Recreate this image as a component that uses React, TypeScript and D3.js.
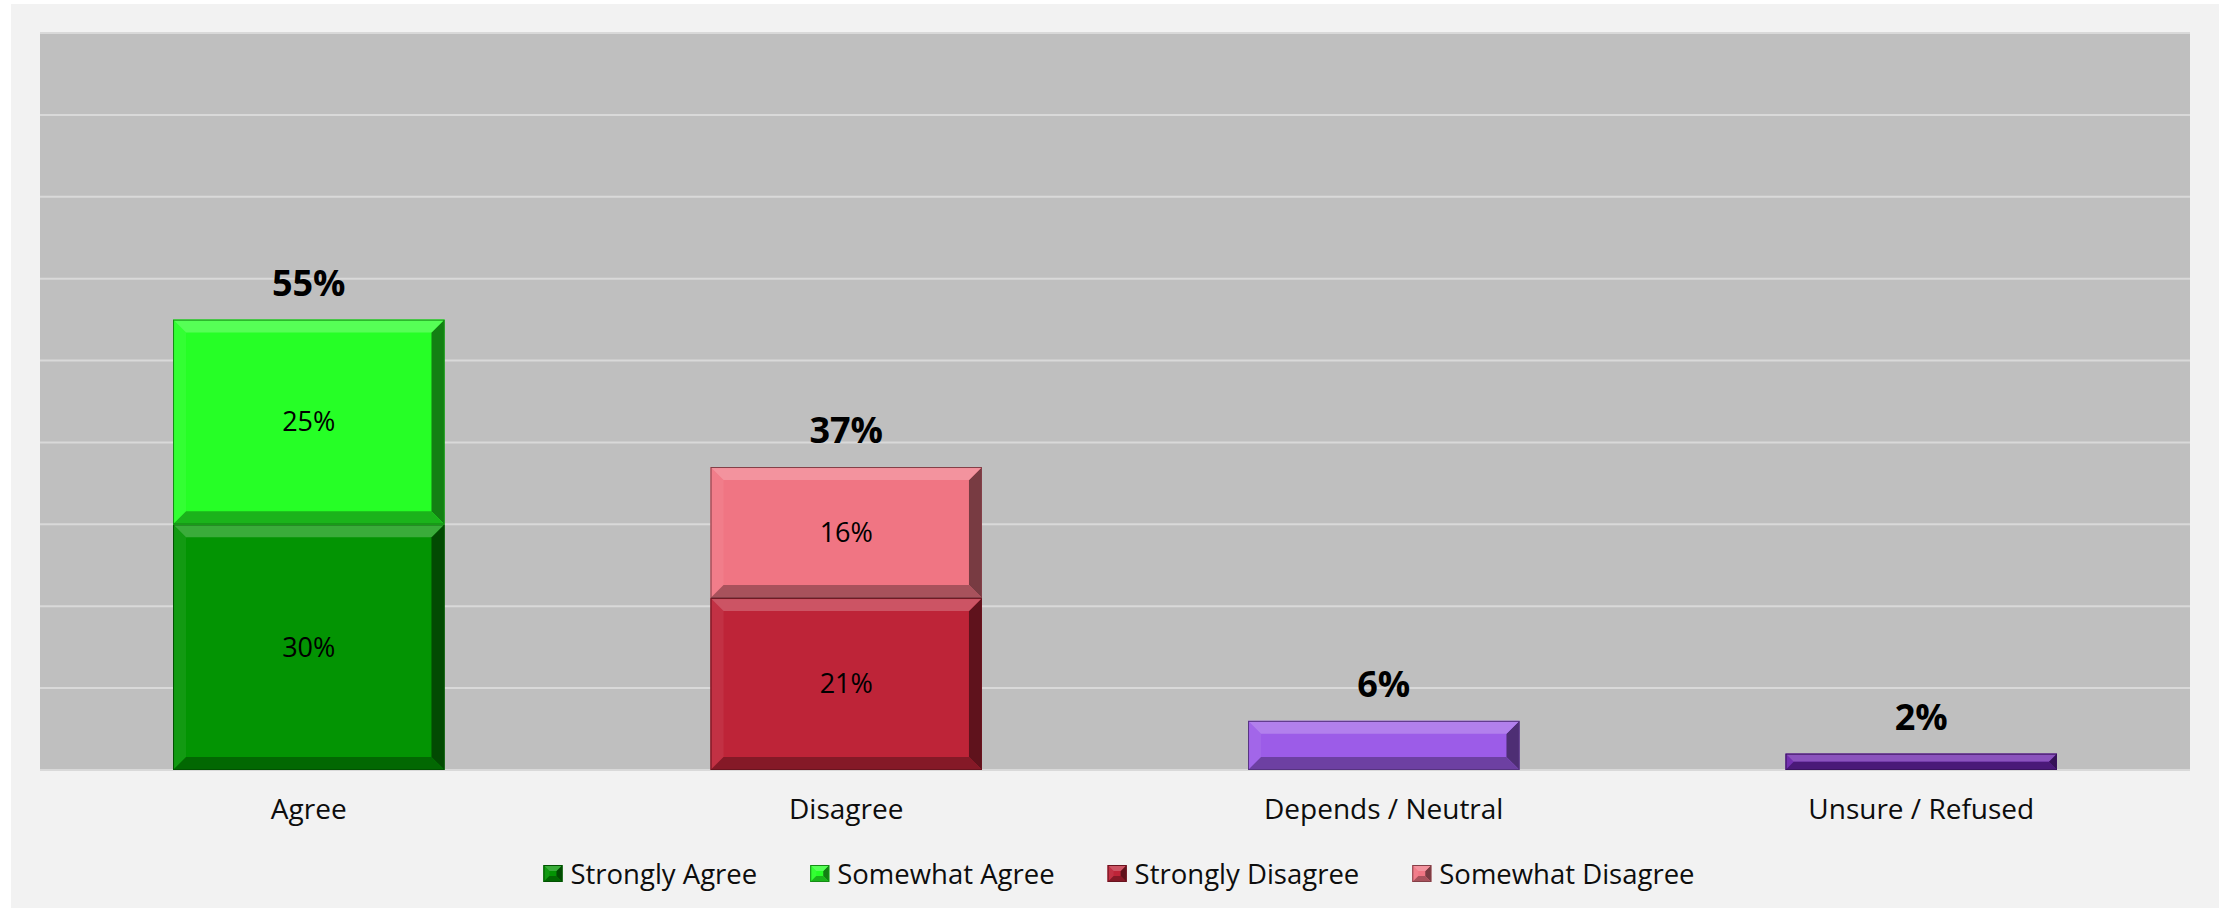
import React, { useEffect, useRef } from "react";
import * as d3 from "d3";

const categories = ["Agree", "Disagree", "Depends / Neutral", "Unsure / Refused"];
const stronglyAgree = [30, 0, 0, 0];
const somewhatAgree = [25, 0, 0, 0];
const stronglyDisagree = [0, 21, 0, 0];
const somewhatDisagree = [0, 16, 0, 0];
const dependsNeutral = [0, 0, 6, 0];
const unsureRefused = [0, 0, 0, 2];
const yTicks = [0, 10, 20, 30, 40, 50, 60, 70, 80, 90];

const seriesNames = ["Strongly Agree", "Somewhat Agree", "Strongly Disagree", "Somewhat Disagree", "Depends / Neutral", "Unsure / Refused"];
const seriesValues = [stronglyAgree, somewhatAgree, stronglyDisagree, somewhatDisagree, dependsNeutral, unsureRefused];
const seriesColors = ["#039403", "#26ff26", "#be2438", "#f07583", "#9c5ce8", "#6a23ab"];
const seriesInnerLabel = [true, true, true, true, false, false];
const legendSeries = [0, 1, 2, 3];

const W = 2224;
const H = 912;
const FONT = "'Open Sans', 'DejaVu Sans', sans-serif";

function drawBevel(g: any, x: number, y: number, w: number, h: number, color: string, bevelMax: number) {
  const b = Math.min(bevelMax, h / 2, w / 2);
  const light = d3.interpolateRgb(color, "#ffffff")(0.22);
  const lightish = d3.interpolateRgb(color, "#ffffff")(0.06);
  const dark = d3.interpolateRgb(color, "#000000")(0.3);
  const darker = d3.interpolateRgb(color, "#000000")(0.5);
  g.append("rect").attr("x", x).attr("y", y).attr("width", w).attr("height", h).attr("fill", color);
  const poly = (pts: number[][], fill: string) =>
    g.append("polygon").attr("points", pts.map((p) => p.join(",")).join(" ")).attr("fill", fill);
  poly([[x, y], [x + b, y + b], [x + b, y + h - b], [x, y + h]], lightish);
  poly([[x + w, y], [x + w - b, y + b], [x + w - b, y + h - b], [x + w, y + h]], darker);
  poly([[x, y], [x + w, y], [x + w - b, y + b], [x + b, y + b]], light);
  poly([[x, y + h], [x + w, y + h], [x + w - b, y + h - b], [x + b, y + h - b]], dark);
  g.append("rect").attr("x", x + 0.5).attr("y", y + 0.5).attr("width", Math.max(0, w - 1)).attr("height", Math.max(0, h - 1))
    .attr("fill", "none").attr("stroke", d3.interpolateRgb(color, "#000000")(0.45)).attr("stroke-width", 1);
}

export default function App() {
  const ref = useRef<SVGSVGElement>(null);

  useEffect(() => {
    const svg = d3.select(ref.current);
    svg.selectAll("*").remove();

    svg.append("rect").attr("x", 0).attr("y", 0).attr("width", W).attr("height", H).attr("fill", "#ffffff");
    svg.append("rect").attr("x", 11).attr("y", 4).attr("width", 2208).attr("height", 904).attr("fill", "#f2f2f2");

    const left = 40, right = 2190, top = 33, bottom = 770;

    const x = d3.scaleBand<string>().domain(categories).range([left, right]).paddingInner(0.495).paddingOuter(0.2475);
    const y = d3.scaleLinear().domain([0, 90]).range([bottom, top]);

    svg.append("rect").attr("x", left).attr("y", top).attr("width", right - left).attr("height", bottom - top).attr("fill", "#bfbfbf");

    svg.append("g").selectAll("line").data(yTicks).join("line")
      .attr("x1", left).attr("x2", right)
      .attr("y1", (d) => y(d)).attr("y2", (d) => y(d))
      .attr("stroke", "#d9d9d9").attr("stroke-width", 2);

    const bars = svg.append("g");
    const labels = svg.append("g");
    categories.forEach((cat, ci) => {
      let cum = 0;
      seriesValues.forEach((vals, si) => {
        const v = vals[ci];
        if (!v) return;
        const y0 = y(cum);
        const y1 = y(cum + v);
        drawBevel(bars, x(cat)!, y1, x.bandwidth(), y0 - y1, seriesColors[si], 13);
        if (seriesInnerLabel[si]) {
          labels.append("text")
            .attr("x", x(cat)! + x.bandwidth() / 2)
            .attr("y", (y0 + y1) / 2)
            .attr("dy", "0.35em")
            .attr("text-anchor", "middle")
            .attr("font-family", FONT).attr("font-size", 27).attr("fill", "#000")
            .text(`${v}%`);
        }
        cum += v;
      });
      labels.append("text")
        .attr("x", x(cat)! + x.bandwidth() / 2)
        .attr("y", y(cum) - 24)
        .attr("text-anchor", "middle")
        .attr("font-family", FONT).attr("font-size", 36).attr("font-weight", "bold").attr("fill", "#000")
        .text(`${cum}%`);
    });

    svg.append("g").selectAll("text").data(categories).join("text")
      .attr("x", (d) => x(d)! + x.bandwidth() / 2)
      .attr("y", 819)
      .attr("text-anchor", "middle")
      .attr("font-family", FONT).attr("font-size", 28).attr("fill", "#0d0d0d")
      .text((d) => d);

    // legend
    const lg = svg.append("g");
    const items = legendSeries.map((si) => {
      const gi = lg.append("g");
      drawBevel(gi, 0, -9, 19, 17, seriesColors[si], 6);
      const t = gi.append("text").attr("x", 27).attr("y", 0).attr("dy", "0.35em")
        .attr("font-family", FONT).attr("font-size", 27.5).attr("fill", "#0d0d0d")
        .text(seriesNames[si]);
      const tw = (t.node() as SVGTextElement).getComputedTextLength();
      return { gi, w: 27 + tw };
    });
    const gap = 53;
    const total = d3.sum(items, (d) => d.w) + gap * (items.length - 1);
    let cx = (left + right) / 2 + 4 - total / 2;
    items.forEach((it) => {
      it.gi.attr("transform", `translate(${cx},874)`);
      cx += it.w + gap;
    });
  }, []);

  return (
    <svg ref={ref} width={W} height={H} style={{ position: "absolute", left: 0, top: 0, display: "block" }} />
  );
}
